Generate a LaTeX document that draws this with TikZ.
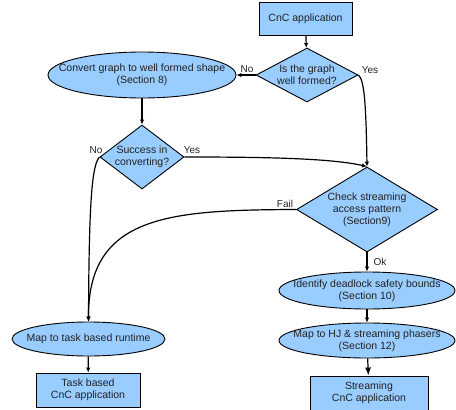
\documentclass[tikz,border=0pt]{standalone}
\usepackage{fontspec}
\setmainfont{Liberation Sans}
\usetikzlibrary{shapes.geometric,arrows.meta}
\definecolor{fillblue}{HTML}{99CCFF}
\definecolor{txt}{HTML}{222222}
\begin{document}
\begin{tikzpicture}[x=1pt,y=-1pt,
  every node/.style={font=\fontsize{10.5}{12}\selectfont, text=txt, align=center},
  boxnode/.style={draw, fill=fillblue, line width=0.9pt, inner sep=0pt},
  dia/.style={diamond, draw, fill=fillblue, line width=0.9pt, inner sep=-10pt},
  ell/.style={ellipse, draw, fill=fillblue, line width=0.9pt, inner sep=-40pt},
  lbl/.style={inner sep=0pt, font=\fontsize{10}{12}\selectfont},
  arr/.style={line width=1.2pt, -{Latex[length=5pt,width=4.5pt]}},
  bigarr/.style={line width=1.2pt, -{Latex[length=8pt,width=6pt]}}]
\useasboundingbox (0,0) rectangle (456,410);

\node[boxnode, minimum width=93pt, minimum height=33pt] (start) at (305.5,18.5) {CnC application};
\node[dia, minimum width=102pt, minimum height=54pt] (wf) at (307,75) {Is the graph\\well formed?};
\node[ell, minimum width=188pt, minimum height=46pt] (conv) at (142,75) {Convert graph to well formed shape\\(Section 8)};
\node[dia, minimum width=84pt, minimum height=64pt] (succ) at (142,157) {Success in\\converting?};
\node[dia, minimum width=141pt, minimum height=85pt] (chk) at (367,209.5) {Check streaming\\access pattern\\(Section9)};
\node[ell, minimum width=176pt, minimum height=37pt] (dead) at (367,290.5) {Identify deadlock safety bounds\\(Section 10)};
\node[ell, minimum width=176pt, minimum height=35pt] (hj) at (367,340.5) {Map to HJ \& streaming phasers\\(Section 12)};
\node[boxnode, minimum width=118pt, minimum height=34pt] (sapp) at (369,393) {Streaming\\CnC application};
\node[ell, minimum width=153pt, minimum height=34pt] (mt) at (88.5,339) {Map to task based runtime};
\node[boxnode, minimum width=104pt, minimum height=34pt] (tapp) at (88,390) {Task based\\CnC application};

\draw[arr] (start) -- (wf);
\draw[arr] (wf.west) -- (conv.east);
\node[lbl] (lno1) at (247,69) {No};
\draw[arr] (wf.east) .. controls (364,80) and (366,100) .. (chk.north);
\node[lbl] (lyes1) at (370,70) {Yes};
\draw[arr] (conv) -- (succ);
\draw[arr] (succ.east) .. controls (260,157) and (330,158) .. (chk.north);
\node[lbl] (lyes2) at (192,150) {Yes};
\draw[arr] (succ.west) .. controls (92,165) and (89,200) .. (mt.north);
\node[lbl] (lno2) at (96,150) {No};
\draw[arr] (chk.west) .. controls (170,210) and (88,215) .. (mt.north);
\node[lbl] (lfail) at (285,204) {Fail};
\draw[arr] (chk.south) -- (dead.north);
\node[lbl] (lok) at (380,262) {Ok};
\draw[arr] (dead) -- (hj);
\draw[bigarr] (hj) -- (sapp);
\draw[arr] (mt) -- (tapp);
\end{tikzpicture}
\end{document}
